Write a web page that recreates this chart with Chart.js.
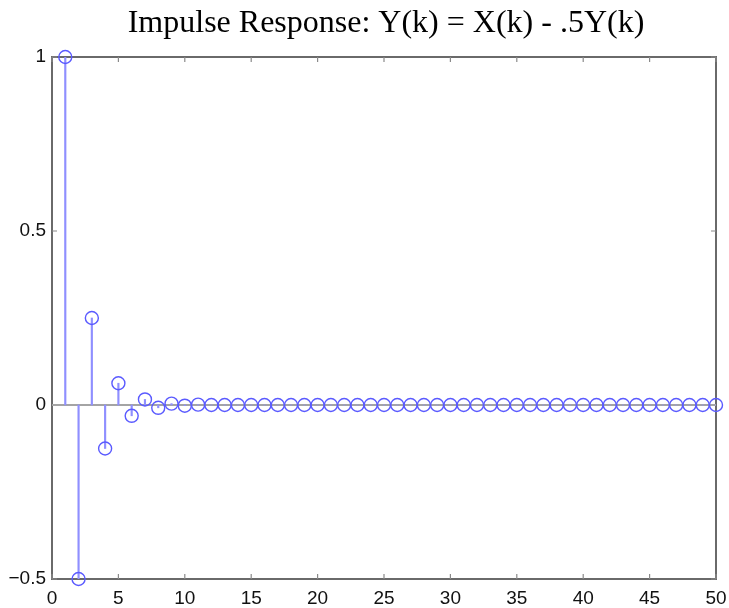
<!DOCTYPE html>
<html>
<head>
<meta charset="utf-8">
<script src="https://cdn.jsdelivr.net/npm/chart.js@4/dist/chart.umd.min.js"></script>
<style>
  html, body { margin: 0; padding: 0; background: #fff; }
  #wrap { width: 729px; height: 608px; }
</style>
</head>
<body>
<div id="wrap"><canvas id="stem"></canvas></div>
<script>
// Impulse response of Y(k) = X(k) - .5Y(k), samples k = 1..50
const sampleIndex = [
    1, 2, 3, 4, 5, 6, 7, 8, 9, 10,
    11, 12, 13, 14, 15, 16, 17, 18, 19, 20,
    21, 22, 23, 24, 25, 26, 27, 28, 29, 30,
    31, 32, 33, 34, 35, 36, 37, 38, 39, 40,
    41, 42, 43, 44, 45, 46, 47, 48, 49, 50
];
const response = [
    1, -0.5, 0.25, -0.125, 0.0625, -0.031, 0.016, -0.008, 0.004, -0.002,
    0.001, 0, 0, 0, 0, 0, 0, 0, 0, 0,
    0, 0, 0, 0, 0, 0, 0, 0, 0, 0,
    0, 0, 0, 0, 0, 0, 0, 0, 0, 0,
    0, 0, 0, 0, 0, 0, 0, 0, 0, 0
];
const xTicks = [0, 5, 10, 15, 20, 25, 30, 35, 40, 45, 50];
const yTicks = [-0.5, 0, 0.5, 1];
const yTickLabels = ['\u22120.5', '0', '0.5', '1'];
const titleText = 'Impulse Response: Y(k) = X(k) - .5Y(k)';

const points = sampleIndex.map((k, i) => ({ x: k, y: response[i] }));

// Box around the axes with inward tick marks, plus the title over the axes
const axesBox = {
    id: 'axesBox',
    beforeDatasetsDraw(chart) {
        const { ctx, chartArea: a, scales } = chart;
        ctx.save();
        ctx.strokeStyle = '#6a6a6a';
        ctx.lineWidth = 2;
        ctx.strokeRect(a.left, a.top, a.right - a.left, a.bottom - a.top);

        ctx.lineWidth = 1.2;
        ctx.strokeStyle = '#8a8a8a';
        const len = 5;
        xTicks.forEach(v => {
            const px = scales.x.getPixelForValue(v);
            ctx.beginPath();
            ctx.moveTo(px, a.bottom); ctx.lineTo(px, a.bottom - len);
            ctx.moveTo(px, a.top); ctx.lineTo(px, a.top + len);
            ctx.stroke();
        });
        yTicks.forEach(v => {
            const py = scales.y.getPixelForValue(v);
            ctx.beginPath();
            ctx.moveTo(a.left, py); ctx.lineTo(a.left + len, py);
            ctx.moveTo(a.right, py); ctx.lineTo(a.right - len, py);
            ctx.stroke();
        });

        // zero baseline
        const y0 = scales.y.getPixelForValue(0);
        ctx.strokeStyle = '#a4a4a4';
        ctx.lineWidth = 2;
        ctx.beginPath();
        ctx.moveTo(a.left, y0);
        ctx.lineTo(a.right, y0);
        ctx.stroke();
        ctx.restore();
    },
    afterDraw(chart) {
        const { ctx, chartArea: a } = chart;
        ctx.save();
        ctx.fillStyle = '#000';
        ctx.font = '32px "Liberation Serif", "Times New Roman", serif';
        ctx.textAlign = 'center';
        ctx.textBaseline = 'alphabetic';
        ctx.fillText(titleText, (a.left + a.right) / 2 + 2, 32);
        ctx.restore();
    }
};

const tickFont = { family: '"Liberation Sans", Arial, sans-serif', size: 19 };

new Chart(document.getElementById('stem'), {
    type: 'bar',
    data: {
        datasets: [
            {
                // stems
                type: 'bar',
                data: points,
                backgroundColor: '#8f8fff',
                barThickness: 1.5,
                order: 2
            },
            {
                // circle markers at the stem tips
                type: 'line',
                data: points,
                showLine: false,
                pointStyle: 'circle',
                pointRadius: 6.5,
                pointBorderWidth: 1.4,
                pointBorderColor: '#5a5aff',
                pointBackgroundColor: 'rgba(0,0,0,0)',
                clip: false,
                order: 1
            }
        ]
    },
    options: {
        responsive: true,
        maintainAspectRatio: false,
        animation: false,
        layout: { padding: { top: 57, right: 13, left: 0, bottom: 0 } },
        plugins: {
            legend: { display: false },
            tooltip: { enabled: false },
            title: { display: false }
        },
        scales: {
            x: {
                type: 'linear',
                min: 0,
                max: 50,
                offset: false,
                grid: { display: false, drawTicks: false },
                border: { display: false },
                afterFit: s => {
                    s.height = 29;
                    s.paddingLeft = 0;
                    s.paddingRight = 0;
                },
                afterBuildTicks: s => { s.ticks = xTicks.map(v => ({ value: v })); },
                ticks: {
                    autoSkip: false,
                    maxRotation: 0,
                    padding: 8,
                    color: '#111',
                    font: tickFont,
                    callback: v => String(v)
                }
            },
            y: {
                min: -0.5,
                max: 1,
                grid: { display: false, drawTicks: false },
                border: { display: false },
                afterFit: s => {
                    s.width = 52;
                    s.paddingTop = 0;
                    s.paddingBottom = 0;
                },
                afterBuildTicks: s => { s.ticks = yTicks.map(v => ({ value: v })); },
                ticks: {
                    padding: 6,
                    color: '#111',
                    font: tickFont,
                    callback: v => yTickLabels[yTicks.indexOf(v)]
                }
            }
        }
    },
    plugins: [axesBox]
});
</script>
</body>
</html>
